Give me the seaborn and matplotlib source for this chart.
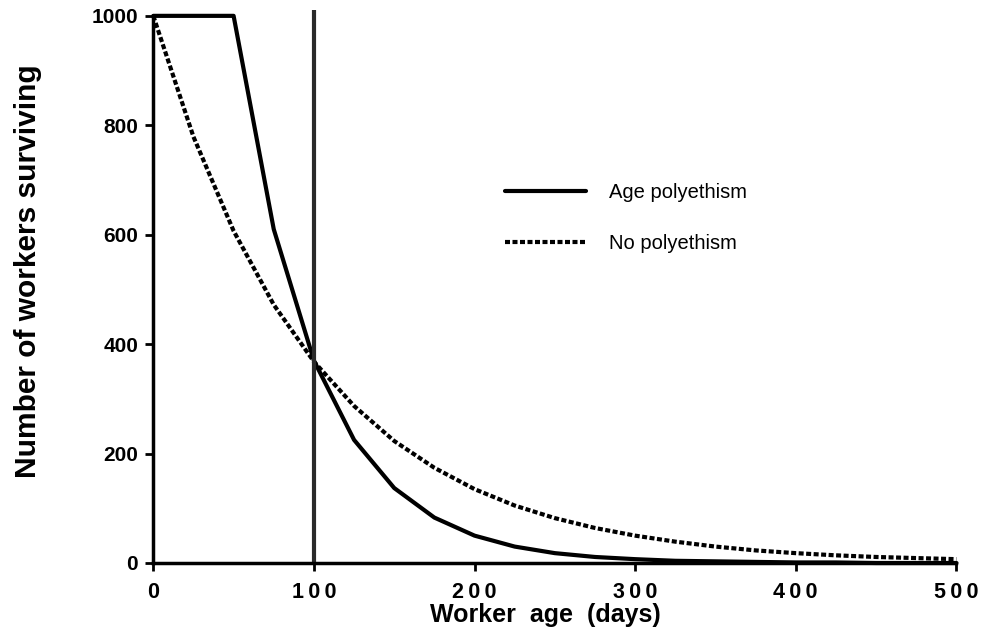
import pandas
import matplotlib
matplotlib.use("Agg")
import matplotlib.pyplot as plt
import seaborn as sns

# survival curves, every 25 days
age = [0, 25, 50, 75, 100, 125, 150, 175, 200, 225, 250, 275, 300,
       325, 350, 375, 400, 425, 450, 475, 500]
age_poly = [1000, 1000, 1000, 610, 370, 225, 137, 83, 50, 30, 18, 11, 7,
            4, 3, 2, 1, 1, 0, 0, 0]
no_poly = [1000, 779, 607, 472, 368, 287, 223, 174, 135, 105, 82, 64, 50,
           39, 30, 23, 18, 14, 11, 9, 7]
x_ticks = [0, 100, 200, 300, 400, 500]
y_ticks = [0, 200, 400, 600, 800, 1000]

df = pandas.DataFrame({'age': age, 'Age polyethism': age_poly, 'No polyethism': no_poly})

sns.set_style('ticks')
plt.rcParams['font.family'] = ['Liberation Sans', 'DejaVu Sans']
plt.rcParams['text.color'] = 'black'
plt.rcParams['axes.labelcolor'] = 'black'
plt.rcParams['xtick.color'] = 'black'
plt.rcParams['ytick.color'] = 'black'
plt.rcParams['axes.edgecolor'] = 'black'

fig = plt.figure(figsize=(9.89, 6.34), dpi=100)
ax = fig.add_axes([0.155, 0.112, 0.812, 0.863])

sns.lineplot(x='age', y='Age polyethism', data=df, ax=ax, color='black',
             linewidth=3, label='Age polyethism', clip_on=False)
sns.lineplot(x='age', y='No polyethism', data=df, ax=ax, color='black',
             linewidth=3, linestyle=(0, (1.2, 0.6)), label='No polyethism', clip_on=False)
ax.vlines(100, 0, 1010, color='#2a2a2a', linewidth=3, clip_on=False)

ax.set_xlim(0, 500)
ax.set_ylim(0, 1000)
ax.set_xticks(x_ticks)
ax.set_yticks(y_ticks)
ax.tick_params(axis='both', width=2, length=6, labelsize=15, pad=5)
ax.tick_params(axis='x', pad=8)
ax.set_xticklabels(['\u2009'.join(str(t)) for t in x_ticks], fontweight='bold', fontsize=15.5)
ax.set_yticklabels([str(t) for t in y_ticks], fontweight='bold', fontsize=15)
for s in ['left', 'bottom']:
    ax.spines[s].set_linewidth(2.5)
sns.despine(ax=ax)

ax.set_xlabel('Worker  age  (days)', fontsize=18, fontweight='bold')
ax.xaxis.set_label_coords(0.488, -0.073)
ax.set_ylabel('Number of workers surviving', fontsize=21.5, fontweight='bold')
ax.yaxis.set_label_coords(-0.139, 0.534)

ax.legend(loc='center left', bbox_to_anchor=(0.438, 0.63), frameon=False,
          borderpad=0, borderaxespad=0,
          fontsize=14.5, handlelength=4, handletextpad=1.15, labelspacing=1.6)

plt.savefig('out.png', dpi=100)
